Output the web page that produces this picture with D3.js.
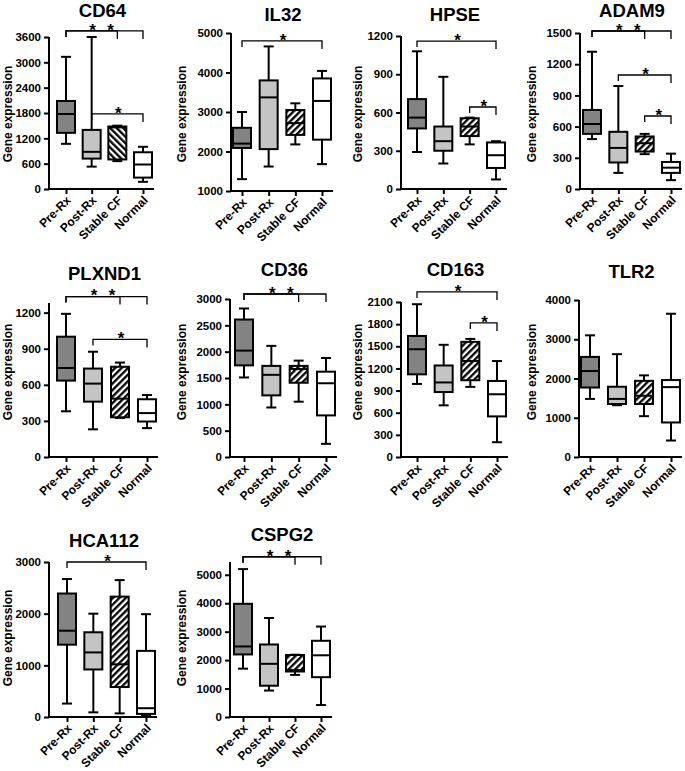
<!DOCTYPE html>
<html><head><meta charset="utf-8">
<script src="https://cdn.jsdelivr.net/npm/d3@7"></script>
<style>body{margin:0;background:#fff} text{font-family:Arial,"Liberation Sans",sans-serif;font-weight:bold;fill:#000}</style>
</head><body><svg id="c" width="685" height="771"></svg>
<script>
// ---------- DATA ----------
const groups = ["Pre-Rx", "Post-Rx", "Stable CF", "Normal"];
const genes = ["CD64","IL32","HPSE","ADAM9","PLXND1","CD36","CD163","TLR2","HCA112","CSPG2"];
const yLabel = "Gene expression";
// each group: [lower whisker, Q1, median, Q3, upper whisker]
const CD64   = [[1070,1330,1777,2085,3130],[530,720,880,1400,3600],[660,700,1460,1480,1500],[170,270,580,870,1000]];
const IL32   = [[1300,2090,2200,2600,3000],[1620,2060,3370,3800,4660],[2180,2420,2720,3050,3220],[1680,2300,3280,3850,4040]];
const HPSE   = [[290,475,560,705,1080],[200,300,375,490,880],[350,415,490,555,560],[75,165,265,365,375]];
const ADAM9  = [[480,530,625,760,1320],[155,255,395,550,990],[335,360,440,505,530],[85,155,205,260,340]];
const PLXND1 = [[380,635,740,1000,1190],[230,460,610,735,875],[325,330,485,750,785],[240,295,365,480,515]];
const CD36   = [[1510,1740,2020,2610,2820],[940,1170,1560,1730,2110],[1050,1410,1670,1730,1830],[250,790,1400,1620,1880]];
const CD163  = [[990,1120,1460,1640,2070],[700,880,1010,1240,1520],[950,1040,1300,1560,1600],[200,550,850,1030,1300]];
const TLR2   = [[1480,1770,2190,2550,3100],[1320,1350,1480,1790,2620],[1040,1350,1560,1940,2080],[420,880,1780,1960,3650]];
const HCA112 = [[260,1400,1670,2390,2670],[90,920,1250,1640,2000],[70,580,1020,2330,2650],[30,60,170,1280,1990]];
const CSPG2  = [[1700,2200,2480,3980,5200],[930,1100,1870,2550,3480],[1480,1600,1650,2180,2190],[420,1400,2170,2680,3180]];
// y-axis tick values
const CD64_ticks   = [0,600,1200,1800,2400,3000,3600];
const IL32_ticks   = [1000,2000,3000,4000,5000];
const HPSE_ticks   = [0,300,600,900,1200];
const ADAM9_ticks  = [0,300,600,900,1200,1500];
const PLXND1_ticks = [0,300,600,900,1200];
const CD36_ticks   = [0,500,1000,1500,2000,2500,3000];
const CD163_ticks  = [0,300,600,900,1200,1500,1800,2100];
const TLR2_ticks   = [0,1000,2000,3000,4000];
const HCA112_ticks = [0,1000,2000,3000];
const CSPG2_ticks  = [0,1000,2000,3000,4000,5000];
// significance brackets: [from group, to group, level (data units)]
const CD64_sig   = [[0,2,3745],[0,3,3745],[1,3,1777]];
const IL32_sig   = [[0,3,4800]];
const HPSE_sig   = [[0,3,1160],[2,3,643]];
const ADAM9_sig  = [[0,2,1519],[0,3,1519],[1,3,1096],[2,3,702]];
const PLXND1_sig = [[0,2,1333],[0,3,1333],[1,3,977]];
const CD36_sig   = [[0,2,3095],[0,3,3095]];
const CD163_sig  = [[0,3,2236],[2,3,1816]];
const TLR2_sig   = [];
const HCA112_sig = [[0,3,3000]];
const CSPG2_sig  = [[0,2,5634],[0,3,5634]];

// ---------- LAYOUT / STYLE ----------
const fills = ["#838383", "#c4c4c4", "url(#hatchR)", "#ffffff"];
const layout = {
  CD64:  {left:49,  c:[66,143],  y:[189,37],  dom:[0,3600], lx:12,  ly:114, ty:16.5, box:CD64,  ticks:CD64_ticks,  sig:CD64_sig, hatch:"url(#hatchL)"},
  IL32:  {left:231, c:[242,322], y:[191,33],  dom:[1000,5000], lx:186, ly:114, ty:21, box:IL32, ticks:IL32_ticks, sig:IL32_sig},
  HPSE:  {left:401, c:[417,496], y:[189,36],  dom:[0,1200], lx:362, ly:114, ty:21,  box:HPSE,  ticks:HPSE_ticks,  sig:HPSE_sig},
  ADAM9: {left:580, c:[592,671], y:[189,33],  dom:[0,1500], lx:536, ly:114, ty:16.5, box:ADAM9, ticks:ADAM9_ticks, sig:ADAM9_sig},
  PLXND1:{left:49,  c:[66,147],  y:[457,303], dom:[0,1280], lx:12,  ly:372, ty:280, box:PLXND1,ticks:PLXND1_ticks,sig:PLXND1_sig},
  CD36:  {left:230, c:[244,326], y:[457,299], dom:[0,3000], lx:186, ly:372, ty:276, box:CD36,  ticks:CD36_ticks,  sig:CD36_sig},
  CD163: {left:401, c:[417,497], y:[457,302], dom:[0,2100], lx:362, ly:372, ty:276, box:CD163, ticks:CD163_ticks, sig:CD163_sig},
  TLR2:  {left:579, c:[590,671], y:[457,300], dom:[0,4000], lx:536, ly:372, ty:278, box:TLR2,  ticks:TLR2_ticks,  sig:TLR2_sig},
  HCA112:{left:49,  c:[67,146],  y:[717,562], dom:[0,3000], lx:12,  ly:638, ty:547, box:HCA112,ticks:HCA112_ticks,sig:HCA112_sig},
  CSPG2: {left:230, c:[243,321], y:[717,562], dom:[0,5450], lx:186, ly:638, ty:541, box:CSPG2, ticks:CSPG2_ticks, sig:CSPG2_sig}
};

const svg = d3.select("#c");
svg.append("rect").attr("width",685).attr("height",771).attr("fill","#fff");
const defs = svg.append("defs");
function hatch(id, angle){
  const p = defs.append("pattern").attr("id",id).attr("patternUnits","userSpaceOnUse")
    .attr("width",4.6).attr("height",4.6).attr("patternTransform",`rotate(${angle})`);
  p.append("rect").attr("width",4.6).attr("height",4.6).attr("fill","#fff");
  p.append("line").attr("x1",1.2).attr("x2",1.2).attr("y1",0).attr("y2",4.6)
    .attr("stroke","#000").attr("stroke-width",2.3);
}
hatch("hatchR", 45);
hatch("hatchL", -45);

const BW = 18, CAP = 10, SW = 2;
const FF = "Arial,'Liberation Sans',sans-serif";

genes.forEach(g => {
  const L = layout[g];
  const G = svg.append("g");
  const x = d3.scalePoint().domain(groups).range(L.c);
  const y = d3.scaleLinear().domain(L.dom).range(L.y);
  const xEnd = L.c[1] + 11;

  // title
  G.append("text").attr("x",(L.left + xEnd)/2 + 1).attr("y",L.ty).attr("text-anchor","middle")
    .style("font-size","18.5px").text(g);
  // y label
  G.append("text").attr("transform",`translate(${L.lx},${L.ly}) rotate(-90)`).attr("text-anchor","middle")
    .style("font-size","12px").text(yLabel);

  // y axis
  const ya = G.append("g").attr("transform",`translate(${L.left},0)`)
    .call(d3.axisLeft(y).tickValues(L.ticks).tickSize(5).tickSizeOuter(0).tickPadding(3).tickFormat(d3.format("d")));
  ya.select(".domain").attr("stroke","#000").attr("stroke-width",SW).attr("d",`M0,${L.y[1]}V${L.y[0]}`);
  ya.selectAll(".tick line").attr("stroke","#000").attr("stroke-width",SW);
  ya.selectAll("text").style("font-size","11.5px").style("font-family",FF).style("font-weight","bold");

  // x axis
  const xa = G.append("g").attr("transform",`translate(0,${L.y[0]})`)
    .call(d3.axisBottom(x).tickSize(5).tickSizeOuter(0));
  xa.select(".domain").attr("stroke","#000").attr("stroke-width",SW).attr("d",`M${L.left - 1},0H${xEnd}`);
  xa.selectAll(".tick line").attr("stroke","#000").attr("stroke-width",SW);
  xa.selectAll("text").attr("text-anchor","end").attr("dy",null).attr("y",null)
    .attr("transform","translate(5,12) rotate(-45)")
    .style("font-size","12px").style("font-family",FF).style("font-weight","bold");

  // boxes
  L.box.forEach((b,i) => {
    const cx = x(groups[i]);
    const [lo,q1,md,q3,hi] = b;
    const bg = G.append("g").attr("stroke","#000").attr("stroke-width",SW).attr("fill","none");
    bg.append("line").attr("x1",cx).attr("x2",cx).attr("y1",y(q3)).attr("y2",y(hi));
    bg.append("line").attr("x1",cx).attr("x2",cx).attr("y1",y(lo)).attr("y2",y(q1));
    bg.append("line").attr("x1",cx-CAP/2).attr("x2",cx+CAP/2).attr("y1",y(hi)).attr("y2",y(hi));
    bg.append("line").attr("x1",cx-CAP/2).attr("x2",cx+CAP/2).attr("y1",y(lo)).attr("y2",y(lo));
    const f = (i === 2 && L.hatch) ? L.hatch : fills[i];
    bg.append("rect").attr("x",cx-BW/2).attr("width",BW).attr("y",y(q3)).attr("height",y(q1)-y(q3)).attr("fill",f);
    bg.append("line").attr("x1",cx-BW/2).attr("x2",cx+BW/2).attr("y1",y(md)).attr("y2",y(md));
  });

  // significance brackets
  const firstAtLevel = {};
  L.sig.forEach(s => {
    const [a,b,lev] = s;
    const xa_ = x(groups[a]), xb = x(groups[b]), yl = y(lev);
    G.append("path").attr("fill","none").attr("stroke","#000").attr("stroke-width",1.3)
      .attr("d",`M${xa_},${yl+6}V${yl}H${xb}V${yl+8}`);
    let sx;
    if (firstAtLevel[lev] === undefined) { sx = (xa_+xb)/2 + 1; firstAtLevel[lev] = sx; }
    else { sx = firstAtLevel[lev] + 18; }
    G.append("text").attr("x",sx).attr("y",yl+4.8).attr("text-anchor","middle").style("font-size","17px").text("*");
  });
});
</script></body></html>
